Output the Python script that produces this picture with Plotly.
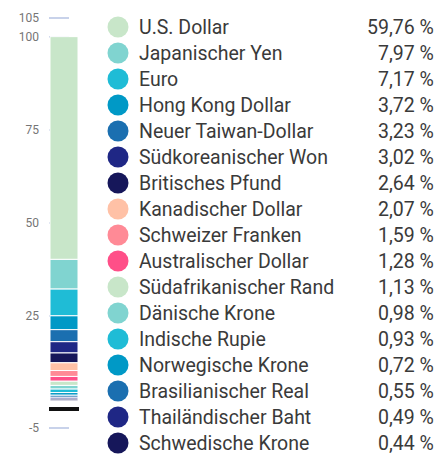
"""Stacked share bar of currencies with a value list beside it."""

import plotly.graph_objects as go

currencies = [
    "U.S. Dollar", "Japanischer Yen", "Euro", "Hong Kong Dollar",
    "Neuer Taiwan-Dollar", "Südkoreanischer Won", "Britisches Pfund",
    "Kanadischer Dollar", "Schweizer Franken", "Australischer Dollar",
    "Südafrikanischer Rand", "Dänische Krone", "Indische Rupie",
    "Norwegische Krone", "Brasilianischer Real", "Thailändischer Baht",
    "Schwedische Krone",
]
shares = [59.76, 7.97, 7.17, 3.72, 3.23, 3.02, 2.64, 2.07, 1.59, 1.28,
          1.13, 0.98, 0.93, 0.72, 0.55, 0.49, 0.44]
palette = ["#c8e6c9", "#80d4d0", "#1fbcd6", "#0099c6", "#1b6fb0",
           "#1f2785", "#16175a", "#ffc1a6", "#ff8a96", "#ff4f88"]
tick_values = [-5, 25, 50, 75, 100, 105]
stack_top = 100

W, H = 437, 455
colors = [palette[i % len(palette)] for i in range(len(currencies))]

fig = go.Figure()

# stack downward from the top of the scale
top = stack_top
for name, val, col in zip(currencies, shares, colors):
    fig.add_trace(go.Bar(
        x=["Anteil"], y=[val], base=[top - val],
        marker=dict(color=col, line=dict(color="white", width=1)),
        name=name, showlegend=False, hoverinfo="name+y",
        xaxis="x", yaxis="y",
    ))
    top -= val

# value list on the right
rows = list(range(len(currencies)))
fig.add_trace(go.Scatter(
    x=[118] * len(rows), y=rows, mode="markers",
    marker=dict(size=21, color=colors),
    showlegend=False, hoverinfo="skip", xaxis="x2", yaxis="y2",
))

font = dict(family="Roboto", size=19.5, color="#3a3a3a")
for i, (name, val) in enumerate(zip(currencies, shares)):
    fig.add_annotation(x=137, y=i, xref="x2", yref="y2", text=name,
                       showarrow=False, xanchor="left", yanchor="middle", font=font)
    label = f"{val:.2f}".replace(".", ",") + "\u00a0%"
    fig.add_annotation(x=436, y=i, xref="x2", yref="y2", text=label,
                       showarrow=False, xanchor="right", yanchor="middle", font=font)

# small padding past -5 / 105 so the end gridlines get drawn
pad = 0.3
px_per_unit = (428 - 18) / 110
fig.update_layout(
    width=W, height=H,
    margin=dict(l=0, r=0, t=0, b=0, autoexpand=False),
    paper_bgcolor="white", plot_bgcolor="rgba(0,0,0,0)",
    barmode="overlay", bargap=0.067,
    xaxis=dict(domain=[49 / W, 79 / W], showticklabels=False, showgrid=False,
               zeroline=False, showline=False, fixedrange=True),
    yaxis=dict(domain=[(H - 428 - pad * px_per_unit) / H,
                       (H - 18 + pad * px_per_unit) / H],
               range=[-5 - pad, 105 + pad],
               tickvals=tick_values, ticktext=[str(t) for t in tick_values],
               tickfont=dict(family="Roboto", size=12, color="#757575"),
               showgrid=True, gridcolor="#c8d2ea", gridwidth=2,
               griddash="20px,200px",
               zeroline=True, zerolinecolor="#111111", zerolinewidth=4,
               showline=False, ticks="", ticklabelstandoff=9,
               fixedrange=True),
    xaxis2=dict(domain=[0, 1], range=[0, W], visible=False, fixedrange=True,
                anchor="y2"),
    yaxis2=dict(domain=[0, 1], range=[(H - 27) / 26, -27 / 26],
                visible=False, fixedrange=True, anchor="x2"),
)

# page has a default body margin; drop it so the figure fills the window
fig.write_html("out.html", config={"displayModeBar": False},
               post_script="document.body.style.margin='0';")
